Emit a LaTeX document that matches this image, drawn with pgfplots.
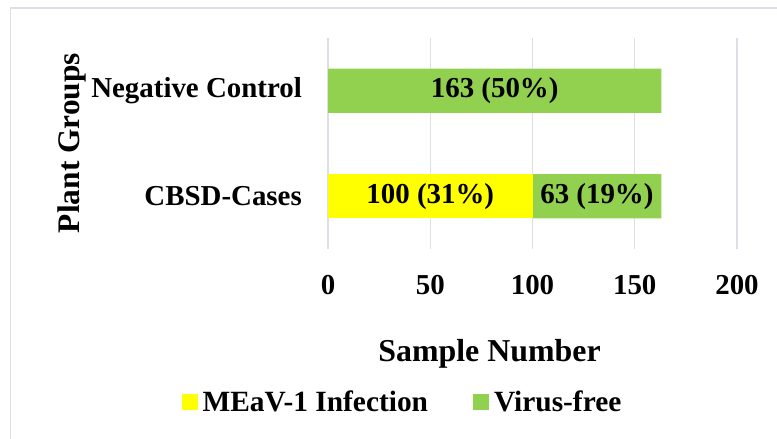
\documentclass[border=0pt]{standalone}
\usepackage{fontspec}
\setmainfont{Liberation Serif}
\usepackage{pgfplots}
\pgfplotsset{compat=1.18}
\definecolor{barY}{HTML}{FFFF00}
\definecolor{barG}{HTML}{92D050}
\definecolor{gridc}{HTML}{DCE0E6}
\begin{document}
\begin{tikzpicture}
\path[use as bounding box] (0,0) rectangle (777bp,439bp);
\draw[gridc, line width=1.2bp] (10.5bp,-2bp) -- (10.5bp,431bp) -- (780bp,431bp);
\begin{axis}[
  at={(328bp,190bp)}, anchor=south west,
  width=409bp, height=211bp, scale only axis,
  xbar stacked, bar width=0.42,
  xmin=0, xmax=200, ymin=-0.5, ymax=1.5,
  xtick={0,50,100,150,200},
  ytick={0,1}, yticklabels={CBSD-Cases,Negative Control},
  /pgf/number format/assume math mode=true,
  axis line style={draw=none}, tick style={draw=none},
  xmajorgrids, grid style={gridc, line width=1.2bp},
  xticklabel style={font=\fontsize{29}{32}\selectfont\bfseries, anchor=north, inner sep=0pt, yshift=-26bp},
  yticklabel style={font=\fontsize{29}{32}\selectfont\bfseries, anchor=east, inner sep=0pt, xshift=-26bp},
  xlabel={Sample Number}, ylabel={Plant Groups},
  xlabel style={font=\fontsize{32}{36}\selectfont\bfseries, at={(axis description cs:0.395,-0.498)}, anchor=center},
  ylabel style={font=\fontsize{31.5}{35}\selectfont\bfseries, at={(axis description cs:-0.627,0.502)}, anchor=center, rotate=0},
  legend style={at={(axis description cs:0.182,-0.725)}, anchor=center, draw=none, fill=none,
    font=\fontsize{29.5}{32}\selectfont\bfseries, legend columns=-1,
    /tikz/every even column/.append style={column sep=43bp}},
  legend image code/.code={\fill[#1] (0bp,-8bp) rectangle (16bp,8bp); \path (0bp,0bp) -- (19bp,0bp);},
]
\addplot[fill=barY, draw=none] coordinates {(100,0) (0,1)};
\addplot[fill=barG, draw=none] coordinates {(63,0) (163,1)};
\legend{MEaV-1 Infection, Virus-free}
\coordinate (LA) at (axis cs:50,0);
\coordinate (LB) at (axis cs:131.5,0);
\coordinate (LC) at (axis cs:81.5,1);
\end{axis}
\node[font=\fontsize{29}{32}\selectfont\bfseries] at (LA) {100 (31\%)};
\node[font=\fontsize{29}{32}\selectfont\bfseries] at (LB) {63 (19\%)};
\node[font=\fontsize{29}{32}\selectfont\bfseries] at (LC) {163 (50\%)};
\end{tikzpicture}
\end{document}
